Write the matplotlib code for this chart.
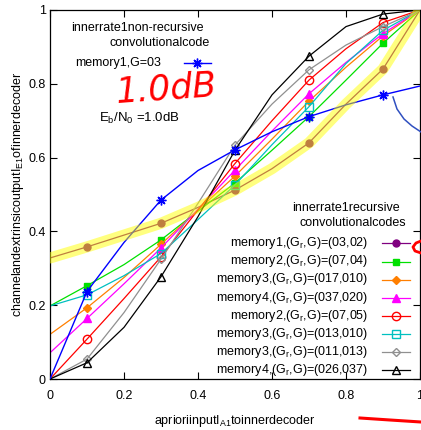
import numpy as np
import matplotlib
matplotlib.use("Agg")
import matplotlib.pyplot as plt

plt.rcParams['font.family'] = ['Liberation Sans', 'DejaVu Sans']
plt.rcParams['mathtext.fontset'] = 'custom'
plt.rcParams['mathtext.rm'] = 'Liberation Sans'
plt.rcParams['mathtext.it'] = 'Liberation Sans:italic'
plt.rcParams['font.size'] = 9

# --------------------
# Data
# --------------------
x = [0.0, 0.1, 0.2, 0.3, 0.4, 0.5, 0.6, 0.7, 0.8, 0.9, 1.0]

nonrec_m1 = [0.0, 0.237, 0.37, 0.485, 0.565, 0.621, 0.67, 0.711, 0.743, 0.770, 0.794]

rec_m1_03_02 = [0.328, 0.358, 0.39, 0.422, 0.465, 0.512, 0.57, 0.64, 0.745, 0.840, 1.0]
rec_m2_07_04 = [0.198, 0.253, 0.31, 0.377, 0.455, 0.531, 0.62, 0.711, 0.81, 0.910, 1.0]
rec_m3_017_010 = [0.121, 0.193, 0.275, 0.365, 0.458, 0.550, 0.65, 0.753, 0.845, 0.930, 1.0]
rec_m4_037_020 = [0.071, 0.164, 0.258, 0.355, 0.460, 0.566, 0.672, 0.773, 0.858, 0.936, 1.0]
rec_m2_07_05 = [0.0, 0.108, 0.218, 0.331, 0.458, 0.584, 0.70, 0.810, 0.895, 0.966, 1.0]
rec_m3_013_010 = [0.198, 0.228, 0.28, 0.340, 0.432, 0.526, 0.635, 0.738, 0.855, 0.945, 1.0]
rec_m3_011_013 = [0.0, 0.054, 0.18, 0.325, 0.476, 0.634, 0.745, 0.838, 0.905, 0.955, 1.0]
rec_m4_026_037 = [0.0, 0.044, 0.14, 0.277, 0.44, 0.620, 0.77, 0.875, 0.955, 0.989, 1.0]

rec_labels = [
    r"memory1,(G$_{\mathregular{r}}$,G)=(03,02)",
    r"memory2,(G$_{\mathregular{r}}$,G)=(07,04)",
    r"memory3,(G$_{\mathregular{r}}$,G)=(017,010)",
    r"memory4,(G$_{\mathregular{r}}$,G)=(037,020)",
    r"memory2,(G$_{\mathregular{r}}$,G)=(07,05)",
    r"memory3,(G$_{\mathregular{r}}$,G)=(013,010)",
    r"memory3,(G$_{\mathregular{r}}$,G)=(011,013)",
    r"memory4,(G$_{\mathregular{r}}$,G)=(026,037)",
]
rec_curves = [rec_m1_03_02, rec_m2_07_04, rec_m3_017_010, rec_m4_037_020,
              rec_m2_07_05, rec_m3_013_010, rec_m3_011_013, rec_m4_026_037]

# style per curve: colour, marker, filled, size
styles = [
    ('#800080', 'o', True, 5),
    ('#00e000', 's', True, 5),
    ('#ff7f00', 'D', True, 4),
    ('#ff00ff', '^', True, 6),
    ('#ff0000', 'o', False, 6),
    ('#00c0c0', 's', False, 6),
    ('#909090', 'D', False, 4),
    ('#000000', '^', False, 6),
]
marks = [1, 3, 5, 7, 9]

# --------------------
# Plot
# --------------------
W, H = 421, 430
fig = plt.figure(figsize=(W / 100, H / 100), dpi=100)
ax = fig.add_axes([50 / W, 1 - 379 / H, 370 / W, 369 / H])

ax.plot(x, nonrec_m1, color='#0000ff', linewidth=1, marker=(8, 2, 0),
        markersize=7, markevery=marks, zorder=3)

for ys, (c, m, filled, ms) in zip(rec_curves, styles):
    ax.plot(x, ys, color=c, linewidth=0.9, marker=m, markersize=ms,
            markevery=marks, markerfacecolor=c if filled else 'none',
            markeredgecolor=c, markeredgewidth=1, zorder=2)

# yellow highlighter over the memory1 curve
ax.plot(x, rec_m1_03_02, color='#ffff00', linewidth=8, alpha=0.5,
        solid_capstyle='round', zorder=4)

# --------------------
# Axes formatting
# --------------------
ax.set_xlim(0, 1)
ax.set_ylim(0, 1)
ticks = [0, 0.2, 0.4, 0.6, 0.8, 1.0]
ax.set_xticks(ticks)
ax.set_yticks(ticks)
ax.set_xticklabels([f"{t:g}" for t in ticks])
ax.set_yticklabels([f"{t:g}" for t in ticks])
ax.tick_params(direction='in', top=True, right=True, length=5, width=0.8)
ax.tick_params(axis='x', pad=8)
ax.tick_params(axis='y', pad=3)
for s in ax.spines.values():
    s.set_linewidth(0.9)

ax.set_xlabel(r"aprioriinputI$_{\mathregular{A1}}$toinnerdecoder", labelpad=8)
ax.set_ylabel(r"channelandextrinsicoutputI$_{\mathregular{E1}}$ofinnerdecoder", labelpad=2)

# --------------------
# Keys (gnuplot style)
# --------------------
def ay(py):
    return (379 - py) / 369

def axx(px):
    return (px - 50) / 370

tr = ax.transAxes
ax.text(axx(71), ay(28), "innerrate1non-recursive", transform=tr, va='center')
ax.text(axx(110), ay(43), "convolutionalcode", transform=tr, va='center')
ax.text(axx(161), ay(63), "memory1,G=03", transform=tr, ha='right', va='center')
ax.plot([axx(184), axx(197), axx(211)], [ay(63)] * 3, transform=tr, color='#0000ff',
        linewidth=1, marker=(8, 2, 0), markersize=7, markevery=[1], clip_on=False)
ax.text(axx(99), ay(118), r"E$_{\mathregular{b}}$/N$_{\mathregular{0}}$ =1.0dB",
        transform=tr, va='center', fontsize=9.5)

ax.text(axx(292), ay(208), "innerrate1recursive", transform=tr, va='center')
ax.text(axx(299), ay(223), "convolutionalcodes", transform=tr, va='center')
row_y = [243.5, 261.5, 279.5, 297.5, 315.5, 333.5, 351.5, 369.5]
for py, lab, (c, m, filled, ms) in zip(row_y, rec_labels, styles):
    ax.text(axx(368), ay(py), lab, transform=tr, ha='right', va='center')
    ax.plot([axx(382), axx(396), axx(410)], [ay(py)] * 3, transform=tr, color=c,
            linewidth=0.9, marker=m, markersize=ms, markevery=[1],
            markerfacecolor=c if filled else 'none', markeredgecolor=c,
            clip_on=False)

# --------------------
# Hand-written marks on the printout
# --------------------
def fp(pts):
    return [p[0] / W for p in pts], [1 - p[1] / H for p in pts]

fig.text(166 / W, 1 - 89 / H, "1.0dB", color='#ff0000', fontsize=25,
         style='italic', family='DejaVu Sans', weight='light',
         ha='center', va='center', rotation=4)
bx, by = fp([(393, 97), (397, 109), (404, 119), (412, 126), (421, 132)])
fig.add_artist(plt.Line2D(bx, by, color='#3050c0', linewidth=1.1))
rx, ry = fp([(360, 418), (390, 420), (421, 422)])
fig.add_artist(plt.Line2D(rx, ry, color='#ff0000', linewidth=2.2))
cx, cy = fp([(421, 241), (416, 243), (413, 247), (415, 251), (421, 253)])
fig.add_artist(plt.Line2D(cx, cy, color='#ff0000', linewidth=2))

fig.savefig('out.png', dpi=100)
